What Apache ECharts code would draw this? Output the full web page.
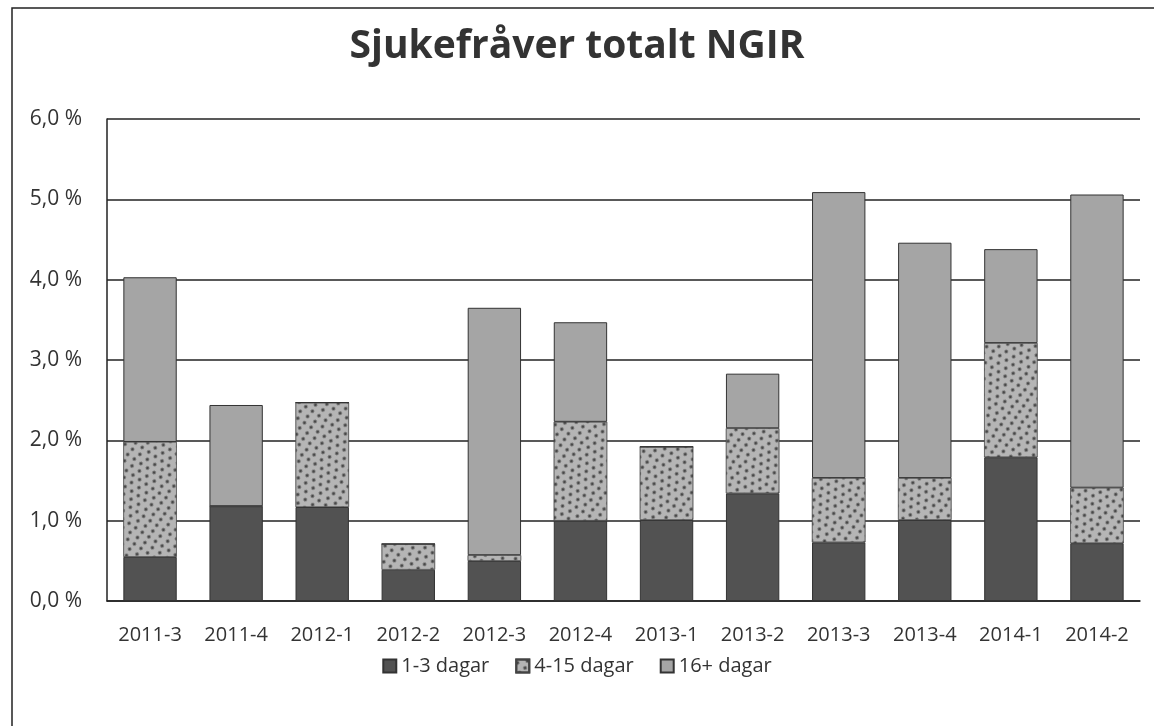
<!DOCTYPE html>
<html>
<head>
<meta charset="utf-8">
<script src="https://cdn.jsdelivr.net/npm/echarts@6/dist/echarts.min.js"></script>
<style>
html,body{margin:0;padding:0;background:#fff;}
#chart{width:1154px;height:726px;}
</style>
</head>
<body>
<div id="chart"></div>
<script>
const categories = ['2011-3','2011-4','2012-1','2012-2','2012-3','2012-4','2013-1','2013-2','2013-3','2013-4','2014-1','2014-2'];
const days1to3 = [0.55, 1.18, 1.17, 0.39, 0.50, 1.00, 1.01, 1.34, 0.73, 1.01, 1.79, 0.72];
const days4to15 = [1.43, 0, 1.30, 0.32, 0.07, 1.23, 0.91, 0.81, 0.80, 0.52, 1.42, 0.69];
const days16plus = [2.05, 1.26, 0, 0, 3.08, 1.24, 0, 0.68, 3.56, 2.93, 1.17, 3.65];
const seriesNames = ['1-3 dagar', '4-15 dagar', '16+ dagar'];
const titleText = 'Sjukefråver totalt NGIR';

const font = '"Open Sans", "Noto Sans", sans-serif';
const chart = echarts.init(document.getElementById('chart'));
const barBase = {type:'bar', stack:'total', barWidth:'62%'};
chart.setOption({
  animation:false,
  backgroundColor:'#fff',
  title:{text:titleText, left:'center', top:22,
    textStyle:{fontFamily:font, fontWeight:'bold', fontSize:39, color:'#333'}},
  legend:{bottom:45, left:'center', itemWidth:13, itemHeight:13, itemGap:26,
    textStyle:{fontFamily:font, fontSize:20, color:'#333'},
    data:seriesNames.map(n=>({name:n, icon:'rect'}))},
  grid:{left:107, right:14, top:119, bottom:125},
  xAxis:{type:'category', data:categories,
    axisLine:{lineStyle:{color:'#222', width:1.5}},
    axisTick:{show:false},
    axisLabel:{fontFamily:font, fontSize:20, color:'#333', margin:24, interval:0}},
  yAxis:{type:'value', min:0, max:6, interval:1,
    axisLine:{show:true, lineStyle:{color:'#222', width:1.5}},
    axisTick:{show:false},
    splitLine:{lineStyle:{color:'#222', width:1.5}},
    axisLabel:{fontFamily:font, fontSize:21, color:'#333', margin:25,
      formatter:v=>v.toFixed(1).replace('.', ',') + ' %'}},
  series:[
    Object.assign({name:seriesNames[0], data:days1to3,
      itemStyle:{color:'#525252', borderColor:'#333', borderWidth:1}}, barBase),
    Object.assign({name:seriesNames[1], data:days4to15,
      itemStyle:{color:'#b5b5b5', borderColor:'#444', borderWidth:0.5,
        decal:{symbol:'circle', symbolSize:0.85, color:'rgba(45,45,45,0.8)',
          dashArrayX:[[4,4],[6,3]], dashArrayY:[4,3], rotation:0.6}}}, barBase),
    Object.assign({name:seriesNames[2], data:days16plus,
      itemStyle:{color:'#a5a5a5', borderColor:'#333', borderWidth:1}}, barBase)
  ],
  graphic:[{type:'rect', shape:{x:12, y:8, width:1160, height:740},
    style:{fill:'none', stroke:'#222', lineWidth:1.5}, silent:true}]
});
</script>
</body>
</html>
